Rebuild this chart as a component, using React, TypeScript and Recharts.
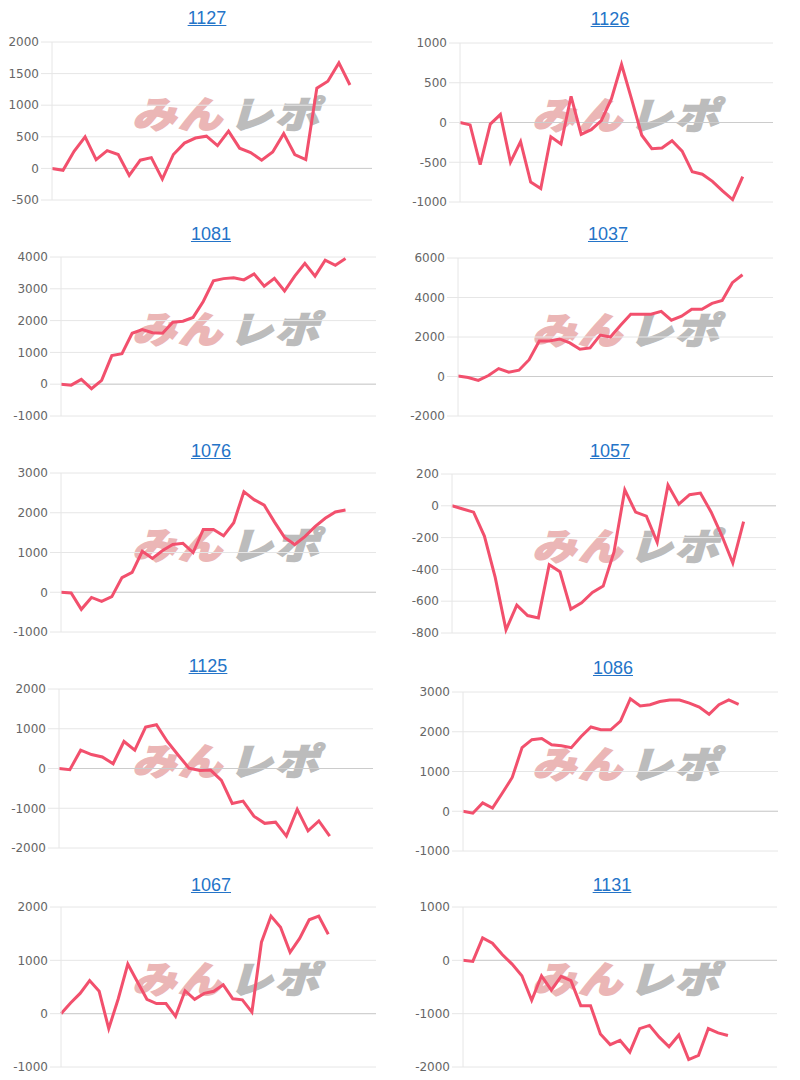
import React from 'react';
import { LineChart, Line, XAxis, YAxis, CartesianGrid, ReferenceLine } from 'recharts';

// machine numbers shown as panel titles
const TITLES = ['1127', '1126', '1081', '1037', '1076', '1057', '1125', '1086', '1067', '1131'];

// per-machine running totals
const S1127 = [0, -30, 270, 500, 140, 280, 220, -110, 130, 170, -170, 220, 400, 480, 510, 360, 590, 320, 250, 130, 260, 550, 220, 140, 1270, 1380, 1670, 1320];
const S1126 = [0, -30, -530, -20, 100, -500, -240, -750, -830, -180, -270, 330, -150, -90, 25, 300, 730, 290, -160, -330, -320, -230, -360, -620, -650, -740, -860, -970, -680];
const S1081 = [0, -30, 150, -140, 120, 900, 960, 1600, 1720, 1620, 1600, 1950, 1980, 2100, 2600, 3250, 3320, 3350, 3280, 3470, 3080, 3330, 2930, 3400, 3800, 3400, 3900, 3740, 3950];
const S1037 = [30, -50, -200, 50, 400, 220, 320, 850, 1800, 1800, 1900, 1700, 1380, 1450, 2100, 2000, 2600, 3150, 3150, 3150, 3300, 2850, 3050, 3400, 3400, 3700, 3850, 4750, 5150];
const S1076 = [0, -20, -430, -130, -230, -110, 370, 500, 1030, 850, 1050, 1200, 1230, 1000, 1580, 1580, 1420, 1750, 2530, 2330, 2190, 1770, 1380, 1200, 1400, 1650, 1860, 2020, 2070];
const S1057 = [0, -20, -40, -190, -450, -780, -625, -690, -705, -370, -415, -650, -610, -545, -505, -290, 100, -40, -65, -230, 130, 10, 70, 80, -40, -190, -360, -100];
const S1125 = [0, -30, 460, 350, 290, 120, 680, 460, 1040, 1100, 680, 340, 10, -50, -40, -300, -880, -820, -1200, -1380, -1350, -1700, -1030, -1570, -1320, -1700];
const S1086 = [0, -50, 210, 80, 460, 850, 1600, 1800, 1830, 1670, 1650, 1600, 1880, 2120, 2050, 2050, 2270, 2830, 2650, 2680, 2760, 2800, 2800, 2720, 2620, 2440, 2680, 2800, 2690];
const S1067 = [0, 200, 380, 620, 420, -280, 280, 930, 600, 270, 190, 190, -50, 430, 270, 380, 420, 540, 280, 260, 30, 1340, 1830, 1620, 1150, 1410, 1760, 1830, 1490];
const S1131 = [0, -20, 420, 320, 110, -70, -290, -750, -290, -560, -300, -380, -850, -850, -1380, -1580, -1500, -1720, -1280, -1220, -1440, -1620, -1400, -1860, -1780, -1280, -1360, -1410];

const SERIES = [S1127, S1126, S1081, S1037, S1076, S1057, S1125, S1086, S1067, S1131];

// number of x slots (days) on each chart's axis
const X_COUNTS = [30, 32, 32, 32, 32, 31, 30, 33, 34, 33];

// y-axis tick labels
const TICKS = [
  [-500, 0, 500, 1000, 1500, 2000],
  [-1000, -500, 0, 500, 1000],
  [-1000, 0, 1000, 2000, 3000, 4000],
  [-2000, 0, 2000, 4000, 6000],
  [-1000, 0, 1000, 2000, 3000],
  [-800, -600, -400, -200, 0, 200],
  [-2000, -1000, 0, 1000, 2000],
  [-1000, 0, 1000, 2000, 3000],
  [-1000, 0, 1000, 2000],
  [-2000, -1000, 0, 1000],
];

// page positions of each panel (x0 = column left, plot box, title centre)
const PANELS = [
  { x0: 0, left: 52, right: 372, top: 42, bottom: 200, tx: 207, ty: 18 },
  { x0: 400, left: 460, right: 773, top: 43, bottom: 202, tx: 610, ty: 19 },
  { x0: 0, left: 61, right: 376, top: 257, bottom: 416, tx: 211, ty: 234 },
  { x0: 400, left: 458, right: 773, top: 258, bottom: 416, tx: 608, ty: 234 },
  { x0: 0, left: 61, right: 376, top: 473, bottom: 632, tx: 211, ty: 451 },
  { x0: 400, left: 452, right: 776, top: 474, bottom: 633, tx: 610, ty: 451 },
  { x0: 0, left: 59, right: 373, top: 689, bottom: 848, tx: 208, ty: 666 },
  { x0: 400, left: 463, right: 778, top: 692, bottom: 851, tx: 613, ty: 668 },
  { x0: 0, left: 61, right: 376, top: 907, bottom: 1067, tx: 211, ty: 885 },
  { x0: 400, left: 463, right: 777, top: 907, bottom: 1067, tx: 612, ty: 885 },
];

const LINE_COLOR = '#f2506d';
const GRID_COLOR = '#e6e6e6';
const PAD = 8;

// "みんレポ" logo stamped behind each plot
function Watermark({ x, y }: { x: number; y: number }) {
  const font = "'Noto Sans CJK JP', sans-serif";
  return (
    <div
      style={{
        position: 'absolute',
        left: x,
        top: y - 8,
        width: 200,
        height: 50,
        lineHeight: '50px',
        whiteSpace: 'nowrap',
        fontFamily: font,
        fontSize: 37,
        fontWeight: 900,
        fontStyle: 'italic',
        letterSpacing: 2,
        transform: 'scaleX(1.18)',
        transformOrigin: 'left center',
      }}
    >
      <span style={{ color: '#ebb6b6', WebkitTextStroke: '1.5px #ebb6b6' }}>みん</span>
      <span style={{ color: '#bcbcbc', WebkitTextStroke: '1.5px #bcbcbc', marginLeft: 4 }}>レポ</span>
    </div>
  );
}

function Panel({ idx }: { idx: number }) {
  const p = PANELS[idx];
  const ticks = TICKS[idx];
  const rows = SERIES[idx].map((v, i) => ({ i, v }));
  return (
    <>
      <div
        style={{
          position: 'absolute',
          left: p.tx - 50,
          top: p.ty - 11,
          width: 100,
          lineHeight: '22px',
          textAlign: 'center',
        }}
      >
        <a
          href="#"
          style={{
            color: '#2474c8',
            fontSize: 18,
            fontFamily: "'Liberation Sans', Arial, sans-serif",
            textDecoration: 'underline',
          }}
        >
          {TITLES[idx]}
        </a>
      </div>
      <Watermark x={p.x0 + 132} y={p.top + 53} />
      <div style={{ position: 'absolute', left: p.x0, top: p.top - PAD }}>
        <LineChart
          width={p.right - p.x0 + PAD}
          height={p.bottom - p.top + 2 * PAD}
          data={rows}
          margin={{ top: PAD, right: PAD, bottom: PAD, left: 0 }}
        >
          <CartesianGrid horizontal vertical={false} stroke={GRID_COLOR} />
          <XAxis type="number" dataKey="i" domain={[0, X_COUNTS[idx] - 1]} hide />
          <YAxis
            width={p.left - p.x0}
            domain={[ticks[0], ticks[ticks.length - 1]]}
            ticks={ticks}
            interval={0}
            axisLine={{ stroke: GRID_COLOR }}
            tickLine={{ stroke: GRID_COLOR }}
            tickSize={11}
            tickMargin={2}
            tick={{ fill: '#666', fontSize: 12, fontFamily: "'DejaVu Sans', sans-serif" }}
          />
          <ReferenceLine y={0} stroke="#cccccc" />
          <Line
            type="linear"
            dataKey="v"
            stroke={LINE_COLOR}
            strokeWidth={3}
            dot={false}
            isAnimationActive={false}
          />
        </LineChart>
      </div>
    </>
  );
}

export default function App() {
  return (
    <div style={{ position: 'relative', width: 800, height: 1080, background: '#fff', overflow: 'hidden' }}>
      <style>{'body{margin:0}'}</style>
      {TITLES.map((t, i) => (
        <Panel key={t} idx={i} />
      ))}
    </div>
  );
}
